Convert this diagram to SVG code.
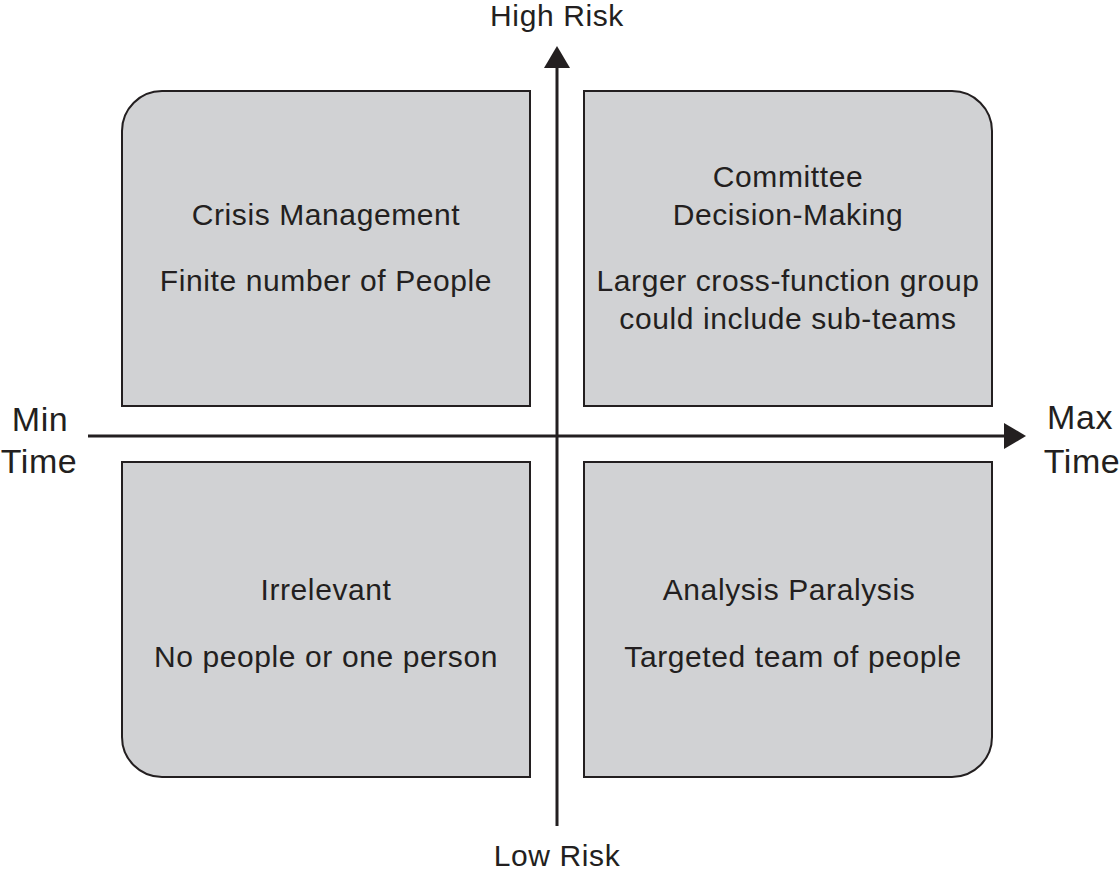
<svg xmlns="http://www.w3.org/2000/svg" width="1120" height="874" viewBox="0 0 1120 874">
<defs>
<style>
.box{fill:#d1d2d4;stroke:#231f20;stroke-width:2}
.t{font-family:"Liberation Sans",Arial,sans-serif;font-size:30px;letter-spacing:0.6px;fill:#231f20;text-anchor:middle}
.big{font-size:34px}
.ax{stroke:#231f20;stroke-width:3;fill:none}
</style>
<marker id="ah" viewBox="0 0 22 26" refX="0" refY="13" markerWidth="22" markerHeight="26" markerUnits="userSpaceOnUse" orient="auto">
<path d="M0,0 L22,13 L0,26 Z" fill="#231f20"/>
</marker>
</defs>
<rect width="1120" height="874" fill="#fff"/>
<g id="connectors">
<line class="ax" x1="557" y1="826" x2="557" y2="68" marker-end="url(#ah)"/>
<line class="ax" x1="88" y1="436" x2="1004" y2="436" marker-end="url(#ah)"/>
</g>
<g id="crisis">
<path class="box" d="M162,91 H530 V406 H122 V131 A40,40 0 0 1 162,91 Z"/>
<text class="t" x="326" y="225">Crisis Management</text>
<text class="t" x="326" y="291">Finite number of People</text>
</g>
<g id="committee">
<path class="box" d="M584,91 H952 A40,40 0 0 1 992,131 V406 H584 Z"/>
<text class="t" x="788" y="187">Committee</text>
<text class="t" x="788" y="225">Decision-Making</text>
<text class="t" x="788" y="291">Larger cross-function group</text>
<text class="t" x="788" y="329">could include sub-teams</text>
</g>
<g id="irrelevant">
<path class="box" d="M122,462 H530 V777 H162 A40,40 0 0 1 122,737 Z"/>
<text class="t" x="326" y="600">Irrelevant</text>
<text class="t" x="326" y="667">No people or one person</text>
</g>
<g id="analysis">
<path class="box" d="M584,462 H992 V737 A40,40 0 0 1 952,777 H584 Z"/>
<text class="t" x="789" y="600">Analysis Paralysis</text>
<text class="t" x="793" y="667">Targeted team of people</text>
</g>
<g id="labels">
<text class="t" x="557" y="26">High Risk</text>
<text class="t" x="557" y="866">Low Risk</text>
<text class="t big" x="40" y="431">Min</text>
<text class="t big" x="39" y="473">Time</text>
<text class="t big" x="1080" y="429">Max</text>
<text class="t big" x="1082" y="473">Time</text>
</g>
</svg>
